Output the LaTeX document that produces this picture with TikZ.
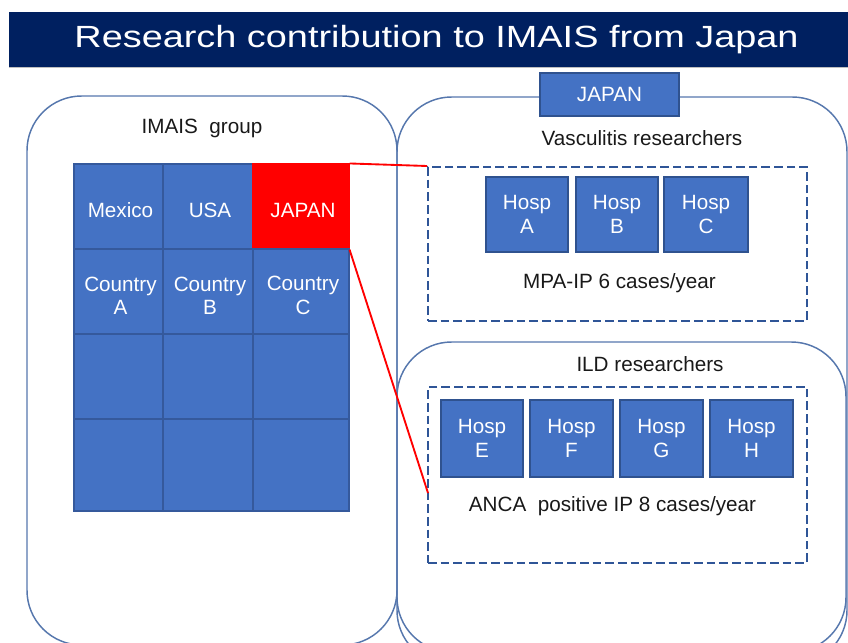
\documentclass[tikz,border=0pt]{standalone}
\usepackage{fontspec}
\usepackage{graphicx}
\setmainfont{Liberation Sans}
\definecolor{navy}{HTML}{002060}
\definecolor{cellblue}{HTML}{4472C4}
\definecolor{celledge}{HTML}{35599C}
\definecolor{outline}{HTML}{5677AD}
\definecolor{dashblue}{HTML}{2F5597}
\definecolor{hospedge}{HTML}{2F528F}
\begin{document}
\begin{tikzpicture}[x=0.75pt,y=-0.75pt,
  span/.style n args={4}{minimum width={(#3-#1)*0.75pt}, minimum height={(#4-#2)*0.75pt},
    at={({(#1+#3)/2},{(#2+#4)/2})}},
  cell/.style={draw=celledge, line width=0.8pt, fill=cellblue, inner sep=0pt,
    text=white, font=\fontsize{15.5}{17.5}\selectfont, align=center},
  ctxt/.style={text=white, font=\fontsize{15.5}{17.5}\selectfont, align=center,
    inner sep=0pt, yshift=-3pt, xshift=1.5pt},
  hosp/.style={cell, draw=hospedge, line width=0.9pt},
  redcell/.style={cell, fill=red, draw=red},
  group/.style={draw=outline, line width=1.1pt, rounded corners=41pt, inner sep=0pt},
  dbox/.style={draw=dashblue, line width=1.5pt, dash pattern=on 6.5pt off 3pt, inner sep=0pt},
  lbl/.style={font=\fontsize{15.5}{18}\selectfont, text=black!90, anchor=base, inner sep=0pt},
  link/.style={draw=red, line width=1.4pt}]

\useasboundingbox (0,0) rectangle (848,642);
\clip (0,0) rectangle (848,642);

% title bar
\node[fill=navy, inner sep=0pt, span={9}{12}{848}{67}] (bar) {};
\draw[black!25, line width=0.8pt] (bar.south west) -- (bar.south east);
\node[anchor=base, inner sep=0pt, text=white, font=\fontsize{23}{26}\selectfont]
  (title) at (436.5,48) {\scalebox{1.235}[1]{Research contribution to IMAIS from Japan}};

% group outlines
\node[group, span={27}{96}{397}{645}] (imais) {};
\node[group, span={397}{97}{847}{665}] (japanbox) {};
\node[group, span={397}{342}{846}{652}] (ild) {};

% JAPAN header
\node[hosp, span={540}{73}{679}{116}] (jphead) {JAPAN};

% labels
\node[lbl] (imaislbl) at (202,133) {IMAIS\ \ group};
\node[lbl] (vaslbl) at (642,145) {Vasculitis researchers};
\node[lbl] (mpalbl) at (619.5,288) {MPA-IP 6 cases/year};
\node[lbl] (ildlbl) at (650,371) {ILD researchers};
\node[lbl] (ancalbl) at (612.5,511) {ANCA\ \ positive IP 8 cases/year};

% dashed boxes
\node[dbox, span={428}{167}{807}{321}] (d1) {};
\node[dbox, span={428}{387}{807}{563}] (d2) {};

% hospitals
\node[hosp, span={486}{177}{568}{252}] (ha) {Hosp\\A};
\node[hosp, span={576}{177}{658}{252}] (hb) {Hosp\\B};
\node[hosp, span={664}{177}{748}{252}] (hc) {Hosp\\C};
\node[hosp, span={441}{400}{523}{477}] (he) {Hosp\\E};
\node[hosp, span={530}{400}{613}{477}] (hf) {Hosp\\F};
\node[hosp, span={620}{400}{703}{477}] (hg) {Hosp\\G};
\node[hosp, span={710}{400}{793}{477}] (hh) {Hosp\\H};

% country grid
\node[cell, span={74}{164}{163}{249}, label={[ctxt]center:Mexico}] (mex) {};
\node[cell, span={163}{164}{253}{249}, label={[ctxt]center:USA}] (usa) {};
\node[redcell, span={253}{164}{349}{249}, label={[ctxt]center:JAPAN}] (jp) {};
\node[cell, span={74}{249}{163}{334}, label={[ctxt]center:{Country\\A}}] (ca) {};
\node[cell, span={163}{249}{253}{334}, label={[ctxt]center:{Country\\B}}] (cb) {};
\node[cell, span={253}{249}{349}{334}, label={[ctxt]center:{Country\\C}}] (cc) {};
\node[cell, span={74}{334}{163}{419}] (g31) {};
\node[cell, span={163}{334}{253}{419}] (g32) {};
\node[cell, span={253}{334}{349}{419}] (g33) {};
\node[cell, span={74}{419}{163}{511}] (g41) {};
\node[cell, span={163}{419}{253}{511}] (g42) {};
\node[cell, span={253}{419}{349}{511}] (g43) {};

% red links
\coordinate (d2pt) at (428,493);
\draw[link] (jp.north east) -- (d1.north west);
\draw[link] (jp.south east) -- (d2pt);
\end{tikzpicture}
\end{document}
